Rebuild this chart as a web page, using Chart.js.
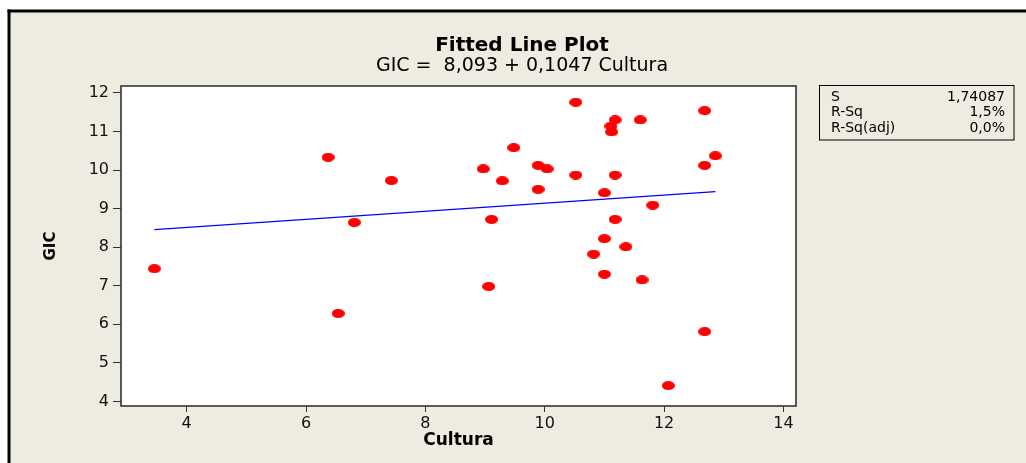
<!DOCTYPE html>
<html>
<head>
<meta charset="utf-8">
<title>Fitted Line Plot</title>
<script src="https://cdn.jsdelivr.net/npm/chart.js@4/dist/chart.umd.js"></script>
<style>
	html, body { margin: 0; padding: 0; background: #fff; }
	canvas { display: block; }
</style>
</head>
<body>
<canvas id="chart" width="1026" height="463"></canvas>
<script>
/**
 * Fitted line plot: GIC against Cultura with the least-squares line
 * and the regression summary box on the right.
 */

// observations
const cultura = [
	3.46, 6.37, 6.54, 6.81, 7.43, 8.97, 9.06, 9.11, 9.29, 9.48, 9.89,
	9.89, 10.04, 10.52, 10.52, 10.82, 11.0, 11.0, 11.0, 11.11, 11.12,
	11.18, 11.18, 11.18, 11.36, 11.6, 11.63, 11.81, 12.07, 12.68, 12.68,
	12.68, 12.86
]
const gic = [
	7.44, 10.33, 6.28, 8.64, 9.73, 10.03, 6.98, 8.72, 9.72, 10.58, 10.12,
	9.5, 10.03, 11.76, 9.87, 7.82, 8.22, 9.41, 7.3, 11.14, 10.99,
	11.3, 9.87, 8.72, 8.01, 11.3, 7.15, 9.09, 4.41, 11.54, 10.12,
	5.81, 10.37
]

// regression result
const intercept = 8.093
const slope = 0.1047
const summaryLabels = ["S", "R-Sq", "R-Sq(adj)"]
const summaryValues = ["1,74087", "1,5%", "0,0%"]

// axes
const xTicks = [4, 6, 8, 10, 12, 14]
const yTicks = [4, 5, 6, 7, 8, 9, 10, 11, 12]

const FONT = "'DejaVu Sans', Verdana, sans-serif"
const PANEL = "#eeebe1"

// fitted line spans the observed Cultura range
const xMin = Math.min(...cultura)
const xMax = Math.max(...cultura)
const fitted = [xMin, xMax].map(x => ({ x, y: intercept + slope * x }))

const fmt = n => String(n).replace(".", ",")

function ellipseMarker(w, h, color) {
	const c = document.createElement("canvas")
	c.width = w
	c.height = h
	const g = c.getContext("2d")
	g.fillStyle = color
	g.beginPath()
	g.ellipse(w / 2, h / 2, w / 2, h / 2, 0, 0, Math.PI * 2)
	g.fill()
	return c
}

const frame = {
	id: "frame",
	beforeDraw(chart) {
		const { ctx, width, height, chartArea: a } = chart
		ctx.save()
		ctx.fillStyle = "#fff"
		ctx.fillRect(0, 0, width, height)
		ctx.fillStyle = PANEL
		ctx.fillRect(8, 10, width - 8, height - 10)
		ctx.fillStyle = "#000"
		ctx.fillRect(7.5, 9.5, width, 3)
		ctx.fillRect(7.5, 9.5, 3, height)
		ctx.fillStyle = "#fff"
		ctx.fillRect(a.left, a.top, a.right - a.left, a.bottom - a.top)
		ctx.restore()
	},
	beforeDatasetsDraw(chart) {
		const { ctx, chartArea: a } = chart
		ctx.save()
		ctx.strokeStyle = "#333"
		ctx.lineWidth = 1.6
		ctx.strokeRect(a.left, a.top, a.right - a.left, a.bottom - a.top)
		ctx.restore()
	},
	afterDraw(chart) {
		const { ctx } = chart
		ctx.save()
		ctx.fillStyle = "#000"
		ctx.textAlign = "center"
		ctx.textBaseline = "alphabetic"
		ctx.font = `bold 20px ${FONT}`
		ctx.fillText("Fitted Line Plot", 522, 51)
		ctx.font = `19px ${FONT}`
		ctx.fillText(`GIC =  ${fmt(intercept)} + ${fmt(slope)} Cultura`, 522, 71)

		// summary box
		ctx.fillStyle = PANEL
		ctx.fillRect(819.5, 85.5, 194.5, 54.5)
		ctx.strokeStyle = "#000"
		ctx.lineWidth = 1
		ctx.strokeRect(819.5, 85.5, 194.5, 54.5)
		ctx.fillStyle = "#000"
		ctx.font = `14px ${FONT}`
		ctx.textBaseline = "middle"
		summaryLabels.forEach((label, i) => {
			const y = 97 + i * 15.5
			ctx.textAlign = "left"
			ctx.fillText(label, 831, y)
			ctx.textAlign = "right"
			ctx.fillText(summaryValues[i], 1005, y)
		})
		ctx.restore()
	}
}

const tickGrid = length => ({
	drawOnChartArea: false,
	drawTicks: true,
	tickLength: length,
	color: "#333",
	lineWidth: 1
})

new Chart(document.getElementById("chart"), {
	type: "scatter",
	data: {
		datasets: [
			{
				label: "GIC",
				data: cultura.map((x, i) => ({ x, y: gic[i] })),
				pointStyle: ellipseMarker(13, 9, "#ff0000"),
				pointRadius: 5,
				order: 0
			},
			{
				label: "Fit",
				data: fitted,
				showLine: true,
				borderColor: "#0000ff",
				borderWidth: 1.2,
				pointRadius: 0,
				order: 1
			}
		]
	},
	options: {
		responsive: false,
		devicePixelRatio: 1,
		animation: false,
		layout: { padding: { left: 11, top: 86, right: 230, bottom: 0 } },
		plugins: {
			legend: { display: false },
			tooltip: { enabled: false }
		},
		scales: {
			x: {
				type: "linear",
				min: 2.9,
				max: 14.21,
				afterBuildTicks: scale => { scale.ticks = xTicks.map(value => ({ value })) },
				afterFit: scale => { scale.height = 57 },
				border: { display: false },
				grid: tickGrid(6),
				ticks: { color: "#111", padding: 2, font: { family: FONT, size: 16 } },
				title: {
					display: true,
					text: "Cultura",
					color: "#000",
					padding: { top: 0, bottom: 12 },
					font: { family: FONT, size: 17, weight: "bold" }
				}
			},
			y: {
				type: "linear",
				min: 3.88,
				max: 12.18,
				afterBuildTicks: scale => { scale.ticks = yTicks.map(value => ({ value })) },
				afterFit: scale => { scale.width = 110 },
				border: { display: false },
				grid: tickGrid(8),
				ticks: { color: "#111", padding: 4, font: { family: FONT, size: 16 } },
				title: {
					display: true,
					text: "GIC",
					color: "#000",
					padding: { top: 31, bottom: 0 },
					font: { family: FONT, size: 15, weight: "bold" }
				}
			}
		}
	},
	plugins: [frame]
})
</script>
</body>
</html>
